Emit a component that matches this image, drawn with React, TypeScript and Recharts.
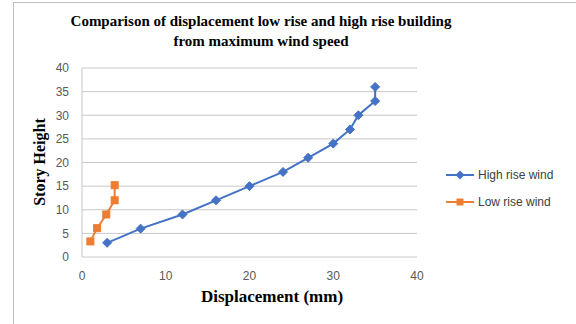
import { LineChart, Line, XAxis, YAxis, CartesianGrid, Legend } from 'recharts'

// High rise building: displacement (mm) vs story height
const highDisp = [3, 7, 12, 16, 20, 24, 27, 30, 32, 33, 35, 35]
const highStory = [3, 6, 9, 12, 15, 18, 21, 24, 27, 30, 33, 36]

// Low rise building
const lowDisp = [1, 1.8, 2.9, 3.9, 3.9]
const lowStory = [3.3, 6.1, 9, 12, 15.2]

const xTicks = [0, 10, 20, 30, 40]
const yTicks = [0, 5, 10, 15, 20, 25, 30, 35, 40]

const BLUE = '#4472C4'
const ORANGE = '#ED7D31'
const SERIF = '"Liberation Serif", "Times New Roman", serif'
const SANS = '"Liberation Sans", Arial, sans-serif'

const highData = highDisp.map((x, i) => ({ x, y: highStory[i] }))
const lowData = lowDisp.map((x, i) => ({ x, y: lowStory[i] }))

function Diamond(props: any) {
  const { cx, cy } = props
  if (cx == null || cy == null) return null
  const r = 4.5
  return (
    <path
      d={`M${cx},${cy - r}L${cx + r},${cy}L${cx},${cy + r}L${cx - r},${cy}Z`}
      fill={BLUE}
      stroke={BLUE}
    />
  )
}

function Square(props: any) {
  const { cx, cy } = props
  if (cx == null || cy == null) return null
  const s = 7
  return <rect x={cx - s / 2} y={cy - s / 2} width={s} height={s} fill={ORANGE} stroke={ORANGE} />
}

function LegendBox() {
  const rows = [
    { name: 'High rise wind', color: BLUE, shape: 'diamond' },
    { name: 'Low rise wind', color: ORANGE, shape: 'square' },
  ]
  return (
    <div style={{ fontFamily: SANS, fontSize: 12, color: '#404040' }}>
      {rows.map((r) => (
        <div key={r.name} style={{ display: 'flex', alignItems: 'center', height: 27 }}>
          <svg width={30} height={12} style={{ marginRight: 2 }}>
            <line x1={0} y1={6} x2={28} y2={6} stroke={r.color} strokeWidth={2} />
            {r.shape === 'diamond' ? (
              <path d="M14,1.5L18.5,6L14,10.5L9.5,6Z" fill={r.color} />
            ) : (
              <rect x={10.5} y={2.5} width={7} height={7} fill={r.color} />
            )}
          </svg>
          <span>{r.name}</span>
        </div>
      ))}
    </div>
  )
}

export default function App() {
  return (
    <div
      style={{
        position: 'fixed',
        left: 0,
        top: 0,
        width: 576,
        height: 324,
        background: '#fff',
        overflow: 'hidden',
      }}
    >
      <div
        style={{
          position: 'absolute',
          left: 13,
          top: 2,
          width: 600,
          height: 400,
          borderLeft: '1px solid #bfbfbf',
          borderTop: '1px solid #bfbfbf',
        }}
      />
      <div
        style={{
          position: 'absolute',
          left: 61,
          top: 11,
          width: 400,
          textAlign: 'center',
          fontFamily: SERIF,
          fontWeight: 700,
          fontSize: 15,
          lineHeight: '20px',
          color: '#000',
        }}
      >
        Comparison of displacement low rise and high rise building
        <br />
        from maximum wind speed
      </div>
      <div
        style={{
          position: 'absolute',
          left: 40,
          top: 162,
          transform: 'translate(-50%, -50%) rotate(-90deg)',
          whiteSpace: 'nowrap',
          fontFamily: SERIF,
          fontWeight: 700,
          fontSize: 16,
          color: '#000',
        }}
      >
        Story Height
      </div>
      <div
        style={{
          position: 'absolute',
          left: 272,
          top: 297,
          transform: 'translate(-50%, -50%)',
          whiteSpace: 'nowrap',
          fontFamily: SERIF,
          fontWeight: 700,
          fontSize: 17,
          color: '#000',
        }}
      >
        Displacement (mm)
      </div>
      <div style={{ position: 'absolute', left: 0, top: 0 }}>
        <LineChart width={576} height={324} margin={{ top: 68, right: 159, bottom: 0, left: 0 }}>
          <CartesianGrid horizontal vertical={false} stroke="#c8c8c8" strokeWidth={1} />
          <XAxis
            dataKey="x"
            type="number"
            domain={[0, 40]}
            ticks={xTicks}
            height={67}
            axisLine={false}
            tickLine={false}
            tickSize={0}
            tickMargin={14}
            tick={{ fontSize: 12, fill: '#595959', fontFamily: SANS }}
            allowDuplicatedCategory={false}
          />
          <YAxis
            dataKey="y"
            type="number"
            domain={[0, 40]}
            ticks={yTicks}
            width={82}
            axisLine={{ stroke: '#c8c8c8' }}
            tickLine={false}
            tickSize={0}
            tickMargin={13}
            tick={{ fontSize: 12, fill: '#595959', fontFamily: SANS }}
          />
          <Legend
            layout="horizontal"
            verticalAlign="middle"
            align="center"
            content={() => <LegendBox />}
            wrapperStyle={{ position: 'absolute', left: 446, top: 161, width: 130 }}
          />
          <Line
            data={highData}
            dataKey="y"
            name="High rise wind"
            stroke={BLUE}
            strokeWidth={2}
            dot={<Diamond />}
            activeDot={false}
            isAnimationActive={false}
          />
          <Line
            data={lowData}
            dataKey="y"
            name="Low rise wind"
            stroke={ORANGE}
            strokeWidth={2}
            dot={<Square />}
            activeDot={false}
            isAnimationActive={false}
          />
        </LineChart>
      </div>
    </div>
  )
}
